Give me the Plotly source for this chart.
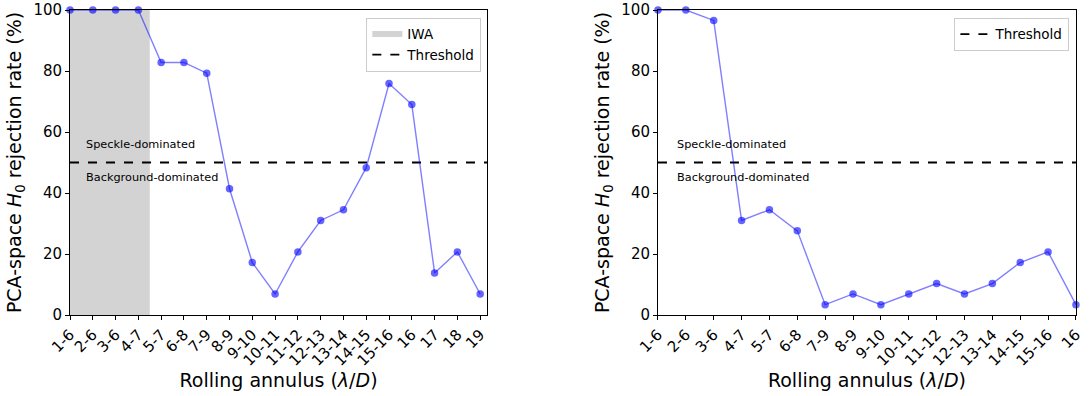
import plotly.graph_objects as go

labels_left = ["1-6", "2-6", "3-6", "4-7", "5-7", "6-8", "7-9", "8-9", "9-10", "10-11",
               "11-12", "12-13", "13-14", "14-15", "15-16", "16", "17", "18", "19"]
rate_left = [100, 100, 100, 100, 82.8, 82.8, 79.3, 41.4, 17.2, 6.9,
             20.7, 31.0, 34.5, 48.3, 75.9, 69.0, 13.8, 20.7, 6.9]

labels_right = ["1-6", "2-6", "3-6", "4-7", "5-7", "6-8", "7-9", "8-9", "9-10", "10-11",
                "11-12", "12-13", "13-14", "14-15", "15-16", "16"]
rate_right = [100, 100, 96.6, 31.0, 34.5, 27.6, 3.4, 6.9, 3.4, 6.9,
              10.3, 6.9, 10.3, 17.2, 20.7, 3.4]

threshold = 50
iwa_end = 3.5  # index position of IWA edge (left panel)

FONT = "DejaVu Sans"
blue_line = "rgba(0,0,255,0.5)"
blue_mark = "rgba(0,0,255,0.6)"

fig = go.Figure()

xl = list(range(len(labels_left)))
xr = list(range(len(labels_right)))
xmax_left = len(labels_left) - 1 + 0.3
xmax_right = len(labels_right) - 1

# IWA shading (left)
fig.add_trace(go.Scatter(x=[0, iwa_end, iwa_end, 0, 0], y=[0, 0, 100, 100, 0],
                         fill="toself", fillcolor="lightgray", mode="none",
                         name="IWA", legend="legend", xaxis="x", yaxis="y",
                         hoverinfo="skip"))
fig.add_trace(go.Scatter(x=[0, xmax_left], y=[threshold, threshold], mode="lines",
                         line=dict(color="black", dash="dash", width=1.8),
                         name="Threshold", legend="legend", xaxis="x", yaxis="y"))
fig.add_trace(go.Scatter(x=xl, y=rate_left, mode="lines+markers",
                         line=dict(color=blue_line, width=1.4),
                         marker=dict(color=blue_mark, size=7.5),
                         showlegend=False, xaxis="x", yaxis="y", cliponaxis=False))

fig.add_trace(go.Scatter(x=[0, xmax_right], y=[threshold, threshold], mode="lines",
                         line=dict(color="black", dash="dash", width=1.8),
                         name="Threshold", legend="legend2", xaxis="x2", yaxis="y2"))
fig.add_trace(go.Scatter(x=xr, y=rate_right, mode="lines+markers",
                         line=dict(color=blue_line, width=1.4),
                         marker=dict(color=blue_mark, size=7.5),
                         showlegend=False, xaxis="x2", yaxis="y2", cliponaxis=False))

ytitle = "PCA-space <i>H</i><sub>0</sub> rejection rate (%)"
xtitle = "Rolling annulus (<i>λ</i>/<i>D</i>)"

axis_common = dict(showline=True, linecolor="black", linewidth=1, mirror=True,
                   ticks="outside", ticklen=4, tickcolor="black", showgrid=False,
                   zeroline=False, tickfont=dict(family=FONT, size=15, color="black"),
                   automargin=False)

fig.update_layout(
    width=1089, height=396,
    margin=dict(l=0, r=0, t=0, b=0),
    plot_bgcolor="white", paper_bgcolor="white",
    font=dict(family=FONT, color="black"),
    xaxis=dict(domain=[0.0643, 0.4472], range=[0, xmax_left], tickvals=xl,
               ticktext=labels_left, tickangle=-45,
               title=dict(text=xtitle, font=dict(size=19), standoff=4),
               anchor="y", **axis_common),
    yaxis=dict(domain=[0.2045, 0.9747], range=[0, 100], tickvals=[0, 20, 40, 60, 80, 100],
               title=dict(text=ytitle, font=dict(size=19), standoff=6),
               anchor="x", **axis_common),
    xaxis2=dict(domain=[0.6042, 0.9880], range=[0, xmax_right], tickvals=xr,
                ticktext=labels_right, tickangle=-45,
                title=dict(text=xtitle, font=dict(size=19), standoff=4),
                anchor="y2", **axis_common),
    yaxis2=dict(domain=[0.2045, 0.9747], range=[0, 100], tickvals=[0, 20, 40, 60, 80, 100],
                title=dict(text=ytitle, font=dict(size=19), standoff=6),
                anchor="x2", **axis_common),
    legend=dict(x=0.442, y=0.955, xanchor="right", yanchor="top",
                bgcolor="rgba(255,255,255,0.8)", bordercolor="#cccccc", borderwidth=1,
                font=dict(family=FONT, size=13.5)),
    legend2=dict(x=0.982, y=0.955, xanchor="right", yanchor="top",
                 bgcolor="rgba(255,255,255,0.8)", bordercolor="#cccccc", borderwidth=1,
                 font=dict(family=FONT, size=13.5)),
)

for xa, ya in [("x", "y"), ("x2", "y2")]:
    fig.add_annotation(x=0.6, y=56, xref=xa, yref=ya, text="Speckle-dominated",
                       showarrow=False, xanchor="left", yanchor="middle",
                       font=dict(family=FONT, size=11.3, color="black"))
    fig.add_annotation(x=0.6, y=45, xref=xa, yref=ya, text="Background-dominated",
                       showarrow=False, xanchor="left", yanchor="middle",
                       font=dict(family=FONT, size=11.3, color="black"))

fig.write_html("out.html")
